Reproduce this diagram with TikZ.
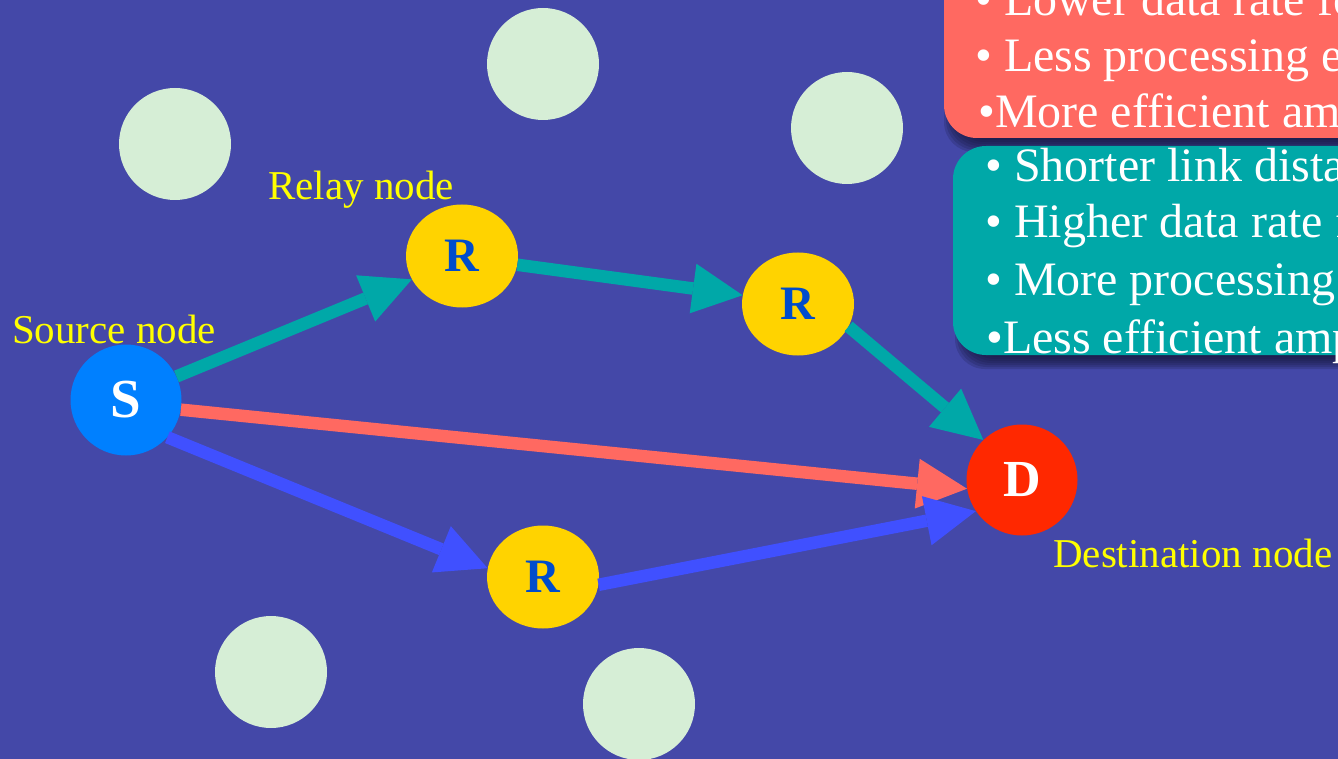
\documentclass[tikz,border=0pt]{standalone}
\usepackage{fontspec}
\setmainfont{Liberation Serif}
\usetikzlibrary{arrows.meta,shapes.geometric}
\definecolor{bgc}{RGB}{68,72,168}
\definecolor{ghost}{RGB}{214,238,214}
\definecolor{relayc}{RGB}{255,211,0}
\definecolor{relaytxt}{RGB}{0,76,204}
\definecolor{srcc}{RGB}{0,128,255}
\definecolor{dstc}{RGB}{255,40,0}
\definecolor{tealc}{RGB}{0,168,168}
\definecolor{salmon}{RGB}{255,105,97}
\definecolor{bluec}{RGB}{64,80,255}
\definecolor{labelc}{RGB}{255,255,0}
\definecolor{shadowc}{RGB}{22,22,60}
\tikzset{
  ghostnode/.style={circle, fill=ghost, minimum size=112pt, inner sep=0pt},
  relaynode/.style={ellipse, fill=relayc, minimum width=112pt, minimum height=103pt, inner sep=0pt,
    text=relaytxt, font=\bfseries\fontsize{48}{48}\selectfont},
  srcnode/.style={circle, fill=srcc, minimum size=111pt, inner sep=0pt,
    text=white, font=\bfseries\fontsize{55}{55}\selectfont},
  dstnode/.style={circle, fill=dstc, minimum size=111pt, inner sep=0pt,
    text=white, font=\bfseries\fontsize{52}{52}\selectfont},
  lbl/.style={text=labelc, font=\fontsize{41}{48}\selectfont, anchor=base west, inner sep=0pt},
  boxtext/.style={text=white, font=\fontsize{48}{56}\selectfont, anchor=base west, inner sep=0pt},
  link/.style={line width=12.5pt, -{Triangle[length=50pt,width=50pt,line width=0pt]}},
  panel/.style={rounded corners=33pt},
  softshadow/.style={fill=shadowc, fill opacity=0.2, rounded corners=30pt}
}
\begin{document}
\begin{tikzpicture}[x=1pt,y=-1pt]
\useasboundingbox (0,0) rectangle (1338,759);
\clip (0,0) rectangle (1338,759);
\fill[bgc] (0,0) rectangle (1338,759);

% background nodes
\node[ghostnode] (g1) at (175,144) {};
\node[ghostnode] (g2) at (543,64) {};
\node[ghostnode] (g3) at (847,128) {};
\node[ghostnode] (g4) at (271,672) {};
\node[ghostnode] (g5) at (639,704) {};

% soft shadows of the panels
\foreach \k in {-4,-2,...,8} {
  \fill[softshadow] (944+8-\k,-80) rectangle (1420,138+6+\k);
  \fill[softshadow] (953+10-\k,146+8-\k) rectangle (1420,355+6+\k);
}
% panels
\fill[salmon, panel] (944,-80) rectangle (1420,138);
\fill[tealc, panel] (953,146) rectangle (1420,355);

\node[boxtext] (t1) at (975,16) {• Lower data rate fo};
\node[boxtext] (t2) at (975,72) {• Less processing e};
\node[boxtext] (t3) at (978,128) {•More efficient am};
\node[boxtext] (t4) at (985,182) {• Shorter link dista};
\node[boxtext] (t5) at (985,238) {• Higher data rate f};
\node[boxtext] (t6) at (985,295) {• More processing};
\node[boxtext] (t7) at (986,353) {•Less efficient amp};

% main nodes
\node[srcnode] (S) at (126,400) {S};
\node[relaynode] (R1) at (462,256) {R};
\node[relaynode] (R2) at (798,304) {R};
\node[relaynode] (R3) at (543,577) {R};
\node[dstnode] (D) at (1022,480) {D};

% labels
\node[lbl] (lrelay) at (268,200) {Relay node};
\node[lbl] (lsrc) at (12,343) {Source node};
\node[lbl] (ldst) at (1053,567) {Destination node};

% links
\draw[link, tealc] (S.25) -- (R1.205);
\draw[link, tealc] (R1.-9) -- (R2.171);
\draw[link, tealc] (R2.-24) -- (D.134);
\draw[link, salmon] (S.-10) -- (D.189);
\draw[link, bluec] (S.-42) -- (R3.171);
\draw[link, bluec] (R3.-8) -- (D.214);
\end{tikzpicture}
\end{document}
